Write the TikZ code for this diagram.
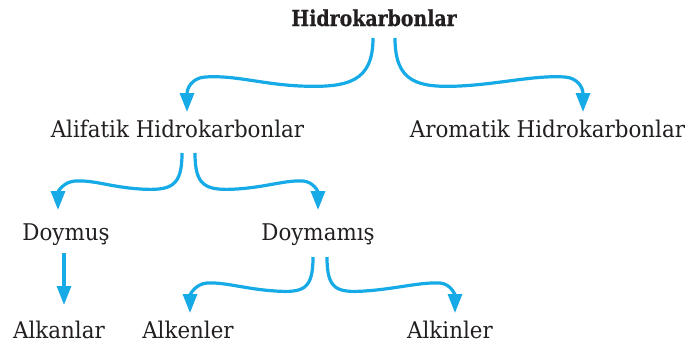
\documentclass[tikz,border=0pt]{standalone}
\usepackage{fontspec}
\setmainfont{DejaVu Serif}[FakeStretch=0.93]
\newfontfamily\hdrfont{DejaVu Serif}[FakeStretch=0.86,FakeBold=0.6]
\usetikzlibrary{arrows.meta,calc}
\definecolor{arrblue}{RGB}{22,170,230}
\definecolor{txt}{RGB}{35,31,32}
\begin{document}
\begin{tikzpicture}[x=1pt,y=-1pt,
  lbl/.style={anchor=base,inner sep=0pt,text=txt,font=\fontsize{23}{26}\selectfont},
  hdr/.style={anchor=base,inner sep=0pt,text=txt,font=\hdrfont\fontsize{22}{26}\selectfont\bfseries},
  arr/.style={draw=arrblue,line width=3.2pt,-{Triangle[length=19pt,width=14pt]}}]
\useasboundingbox (0,0) rectangle (693,348);
\node[hdr] (hk) at (374,26) {Hidrokarbonlar};
\node[lbl] (alif) at (177.5,137) {Alifatik Hidrokarbonlar};
\node[lbl] (arom) at (547.5,137) {Aromatik Hidrokarbonlar};
\node[lbl] (doy) at (66,240) {Doymuş};
\node[lbl] (doym) at (318,240) {Doymamış};
\node[lbl] (alkan) at (59,338) {Alkanlar};
\node[lbl] (alken) at (188,338) {Alkenler};
\node[lbl] (alkin) at (450,338) {Alkinler};
% top level
\draw[arr] ($(hk.base)+(-1,12)$) .. controls (373,82) and (348,88) .. (300,86)
  .. controls (260,84) and (235,75) .. (205,77)
  .. controls (192,78) and (187,88) .. ($(alif.base)+(9.5,-25)$);
\draw[arr] ($(hk.base)+(21,12)$) .. controls (395,82) and (417,88) .. (460,86)
  .. controls (500,84) and (535,75) .. (565,77)
  .. controls (578,78) and (583,88) .. ($(arom.base)+(35.5,-25)$);
% alifatik
\draw[arr] ($(alif.base)+(4.5,16)$) .. controls (182,186) and (172,191) .. (140,189)
  .. controls (110,187) and (95,180) .. (75,181)
  .. controls (63,182) and (58,192) .. ($(doy.base)+(-8,-30)$);
\draw[arr] ($(alif.base)+(17.5,16)$) .. controls (195,186) and (205,191) .. (237,189)
  .. controls (267,187) and (285,180) .. (303,181)
  .. controls (314,182) and (318,192) .. ($(doym.base)+(0,-30)$);
% doymus
\draw[arr] ($(doy.base)+(-2,13)$) -- ($(alkan.base)+(5,-33)$);
% doymamis
\draw[arr] ($(doym.base)+(-5,17)$) .. controls (313,289) and (304,293) .. (275,291)
  .. controls (245,289) and (225,282) .. (207,283)
  .. controls (195,284) and (190,295) .. ($(alken.base)+(2,-25)$);
\draw[arr] ($(doym.base)+(9,17)$) .. controls (327,289) and (336,293) .. (365,291)
  .. controls (395,289) and (420,282) .. (440,283)
  .. controls (451,284) and (455,295) .. ($(alkin.base)+(5,-25)$);
\end{tikzpicture}
\end{document}
